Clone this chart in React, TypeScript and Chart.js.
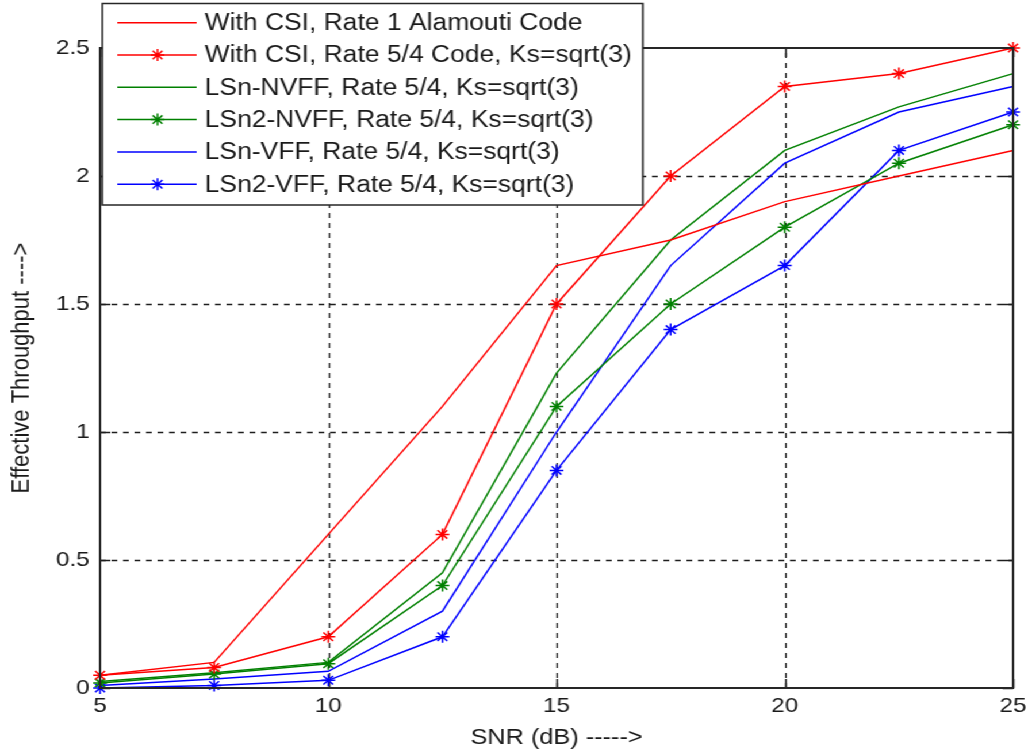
import React, { useEffect, useRef } from 'react';
import { Chart, registerables } from 'chart.js';

Chart.register(...registerables);

// ---- data ----
const snr = [5, 7.5, 10, 12.5, 15, 17.5, 20, 22.5, 25];
const csiAlamouti = [0.05, 0.1, 0.6, 1.1, 1.65, 1.75, 1.9, 2.0, 2.1];
const csiRate54 = [0.05, 0.08, 0.2, 0.6, 1.5, 2.0, 2.35, 2.4, 2.5];
const lsnNvff = [0.025, 0.06, 0.1, 0.45, 1.23, 1.75, 2.1, 2.27, 2.4];
const lsn2Nvff = [0.02, 0.055, 0.095, 0.4, 1.1, 1.5, 1.8, 2.05, 2.2];
const lsnVff = [0.01, 0.035, 0.065, 0.3, 1.0, 1.65, 2.05, 2.25, 2.35];
const lsn2Vff = [0.0, 0.01, 0.03, 0.2, 0.85, 1.4, 1.65, 2.1, 2.25];

const seriesLabels = [
  'With CSI, Rate 1 Alamouti Code',
  'With CSI, Rate 5/4 Code, Ks=sqrt(3)',
  'LSn-NVFF, Rate 5/4, Ks=sqrt(3)',
  'LSn2-NVFF, Rate 5/4, Ks=sqrt(3)',
  'LSn-VFF, Rate 5/4, Ks=sqrt(3)',
  'LSn2-VFF, Rate 5/4, Ks=sqrt(3)',
];
const seriesValues = [csiAlamouti, csiRate54, lsnNvff, lsn2Nvff, lsnVff, lsn2Vff];
const seriesColors = ['#ff0000', '#ff0000', '#008000', '#008000', '#0000ff', '#0000ff'];
const seriesMarkers = [false, true, false, true, false, true];

const xTicks = [5, 10, 15, 20, 25];
const yTicks = [0, 0.5, 1, 1.5, 2, 2.5];
const xTitle = 'SNR (dB) ----->';
const yTitle = 'Effective Throughput ---->';

// ---- layout (internal canvas is horizontally stretched by CSS) ----
const CW = 894;
const CH = 755;
const SX = 1028 / CW;
const FONT = '"Liberation Sans", Arial, sans-serif';
const TEXT = '#1a1a1a';

function drawStar(ctx: CanvasRenderingContext2D, x: number, y: number, r: number) {
  ctx.beginPath();
  ctx.moveTo(x - r, y); ctx.lineTo(x + r, y);
  ctx.moveTo(x, y - r); ctx.lineTo(x, y + r);
  const d = r * Math.SQRT1_2;
  ctx.moveTo(x - d, y - d); ctx.lineTo(x + d, y + d);
  ctx.moveTo(x - d, y + d); ctx.lineTo(x + d, y - d);
  ctx.stroke();
}

const framePlugin = {
  id: 'matlabFrame',
  beforeDatasetsDraw(chart: any) {
    const { ctx, chartArea, scales } = chart;
    const { left, right, top, bottom } = chartArea;
    const xs = scales.x;
    const ys = scales.y;
    ctx.save();
    ctx.strokeStyle = '#1e1e1e';
    ctx.lineWidth = 1.3;
    ctx.setLineDash([5, 5]);
    ctx.beginPath();
    xTicks.slice(1, -1).forEach((v) => {
      const px = Math.round(xs.getPixelForValue(v)) + 0.5;
      ctx.moveTo(px, bottom);
      ctx.lineTo(px, top);
    });
    yTicks.slice(1, -1).forEach((v) => {
      const py = Math.round(ys.getPixelForValue(v)) + 0.5;
      ctx.moveTo(left, py);
      ctx.lineTo(right, py);
    });
    ctx.stroke();
    ctx.setLineDash([]);
    // inward tick marks
    ctx.lineWidth = 1.5;
    ctx.beginPath();
    const tl = 9;
    xTicks.forEach((v) => {
      const px = Math.round(xs.getPixelForValue(v)) + 0.5;
      ctx.moveTo(px, bottom); ctx.lineTo(px, bottom - tl);
      ctx.moveTo(px, top); ctx.lineTo(px, top + tl);
    });
    yTicks.forEach((v) => {
      const py = Math.round(ys.getPixelForValue(v)) + 0.5;
      ctx.moveTo(left, py); ctx.lineTo(left + tl, py);
      ctx.moveTo(right, py); ctx.lineTo(right - tl, py);
    });
    ctx.stroke();
    ctx.restore();
  },
  afterDatasetsDraw(chart: any) {
    const { ctx, chartArea } = chart;
    const { left, right, top, bottom } = chartArea;
    ctx.save();
    ctx.strokeStyle = '#262626';
    ctx.lineWidth = 2;
    ctx.strokeRect(left, top, right - left, bottom - top);
    ctx.restore();
  },
  afterDraw(chart: any) {
    const { ctx, chartArea } = chart;
    const x0 = chartArea.left + 2;
    const x1 = 559;
    const y0 = 3.5;
    const y1 = 205;
    ctx.save();
    ctx.fillStyle = '#ffffff';
    ctx.fillRect(x0, y0, x1 - x0, y1 - y0);
    ctx.strokeStyle = '#262626';
    ctx.lineWidth = 1.5;
    ctx.strokeRect(x0, y0, x1 - x0, y1 - y0);
    ctx.font = `23px ${FONT}`;
    ctx.textBaseline = 'middle';
    ctx.textAlign = 'left';
    seriesLabels.forEach((lab, i) => {
      const cy = 22.7 + i * 32.3;
      ctx.strokeStyle = seriesColors[i];
      ctx.lineWidth = 1.5;
      ctx.beginPath();
      ctx.moveTo(102, cy);
      ctx.lineTo(171, cy);
      ctx.stroke();
      if (seriesMarkers[i]) drawStar(ctx, 137, cy, 6);
      ctx.fillStyle = TEXT;
      ctx.fillText(lab, 178, cy + 1);
    });
    ctx.restore();
  },
};

export default function App() {
  const ref = useRef<HTMLCanvasElement | null>(null);

  useEffect(() => {
    if (!ref.current) return;
    const datasets = seriesLabels.map((lab, i) => ({
      label: lab,
      data: snr.map((s, j) => ({ x: s, y: seriesValues[i][j] })),
      borderColor: seriesColors[i],
      backgroundColor: seriesColors[i],
      borderWidth: 1.5,
      pointStyle: 'star',
      pointRadius: seriesMarkers[i] ? 6 : 0,
      pointBorderWidth: 1.5,
      pointBorderColor: seriesColors[i],
      pointHoverRadius: 0,
      tension: 0,
      fill: false,
      clip: false as any,
    }));
    const chart = new Chart(ref.current, {
      type: 'line',
      data: { datasets },
      options: {
        animation: false,
        responsive: false,
        maintainAspectRatio: false,
        devicePixelRatio: 1,
        layout: { padding: { top: 48, right: 13, bottom: 0, left: 0 } },
        plugins: { legend: { display: false }, tooltip: { enabled: false } },
        events: [],
        scales: {
          x: {
            type: 'linear',
            min: xTicks[0],
            max: xTicks[xTicks.length - 1],
            afterBuildTicks: (s: any) => { s.ticks = xTicks.map((v) => ({ value: v })); },
            afterFit: (s: any) => { s.height = 67; s.paddingLeft = 0; s.paddingRight = 0; },
            grid: { display: false, drawTicks: false },
            border: { display: false },
            ticks: {
              color: TEXT,
              font: { family: FONT, size: 21 },
              padding: 6,
              maxRotation: 0,
              autoSkip: false,
              callback: (v: any) => String(v),
            },
            title: {
              display: true,
              text: xTitle,
              color: TEXT,
              font: { family: FONT, size: 22 },
              padding: { top: 0, bottom: 4 },
            },
          },
          y: {
            type: 'linear',
            min: yTicks[0],
            max: yTicks[yTicks.length - 1],
            afterBuildTicks: (s: any) => { s.ticks = yTicks.map((v) => ({ value: v })); },
            afterFit: (s: any) => { s.width = 87; s.paddingTop = 0; s.paddingBottom = 0; },
            grid: { display: false, drawTicks: false },
            border: { display: false },
            ticks: {
              color: TEXT,
              font: { family: FONT, size: 21 },
              padding: 9,
              autoSkip: false,
              callback: (v: any) => String(v),
            },
            title: {
              display: true,
              text: yTitle,
              color: TEXT,
              font: { family: FONT, size: 22 },
              padding: { top: 6, bottom: 0 },
            },
          },
        },
      },
      plugins: [framePlugin],
    } as any);
    return () => chart.destroy();
  }, []);

  return (
    <div
      style={{
        position: 'fixed',
        left: 0,
        top: 0,
        width: CW,
        height: CH,
        transform: `scaleX(${SX})`,
        transformOrigin: '0 0',
        background: '#fff',
      }}
    >
      <canvas ref={ref} width={CW} height={CH} style={{ display: 'block', width: CW, height: CH }} />
    </div>
  );
}
